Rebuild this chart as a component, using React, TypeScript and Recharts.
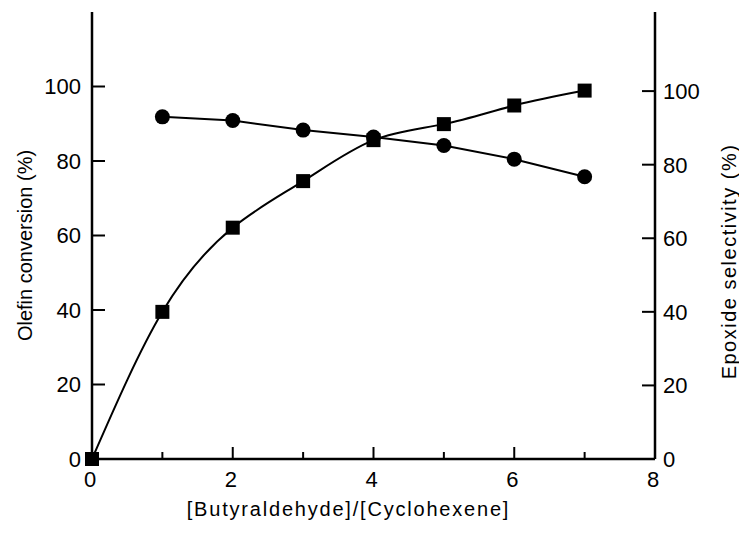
import { Line, LineChart, XAxis, YAxis } from "recharts";

const ratio = [0, 1, 2, 3, 4, 5, 6, 7];
const conversion = [0, 39.5, 62.1, 74.6, 85.6, 89.9, 94.9, 98.9];
const selectivity = [null, 93.0, 92.0, 89.4, 87.5, 85.2, 81.5, 76.7];
const xTicks = [0, 1, 2, 3, 4, 5, 6, 7, 8];
const yTicks = [0, 20, 40, 60, 80, 100];

const data = ratio.map((x, i) => ({ x, conv: conversion[i], sel: selectivity[i] }));

const FONT = "'Liberation Sans', Arial, sans-serif";
const INK = "#000";

function SquareDot({ cx, cy }: any) {
  if (cx == null || cy == null) return null;
  return <rect x={cx - 7} y={cy - 7} width={14} height={14} fill={INK} />;
}

function CircleDot({ cx, cy }: any) {
  if (cx == null || cy == null) return null;
  return <circle cx={cx} cy={cy} r={7.5} fill={INK} />;
}

function BottomTick({ x, y, payload }: any) {
  const major = payload.value % 2 === 0;
  return (
    <g>
      <line x1={x} x2={x} y1={y} y2={y - (major ? 12 : 7)} stroke={INK} strokeWidth={2} />
      {major && (
        <text x={x - 2} y={y + 28} textAnchor="middle" fontSize={22} fontFamily={FONT} fill={INK}>
          {payload.value}
        </text>
      )}
    </g>
  );
}

function TopTick({ x, y, payload }: any) {
  const major = payload.value % 2 === 0;
  return <line x1={x} x2={x} y1={y} y2={y + (major ? 12 : 7)} stroke={INK} strokeWidth={2} />;
}

function LeftTick({ x, y, payload }: any) {
  return (
    <g>
      <line x1={x} x2={x + 13} y1={y} y2={y} stroke={INK} strokeWidth={2} />
      <text x={x - 11} y={y} dy="0.36em" textAnchor="end" fontSize={22} fontFamily={FONT} fill={INK}>
        {payload.value}
      </text>
    </g>
  );
}

function RightTick({ x, y, payload }: any) {
  return (
    <g>
      <line x1={x} x2={x - 13} y1={y} y2={y} stroke={INK} strokeWidth={2} />
      <text x={x + 8} y={y} dy="0.36em" textAnchor="start" fontSize={22} fontFamily={FONT} fill={INK}>
        {payload.value}
      </text>
    </g>
  );
}

function Title({ cx, cy, angle, spacing, text }: any) {
  return (
    <text
      x={cx}
      y={cy}
      transform={angle ? `rotate(${angle}, ${cx}, ${cy})` : undefined}
      textAnchor="middle"
      dominantBaseline="central"
      fontSize={20}
      fontFamily={FONT}
      letterSpacing={spacing}
      fill={INK}
    >
      {text}
    </text>
  );
}

export default function App() {
  return (
    <div style={{ position: "absolute", left: 0, top: 0, width: 739, height: 534, background: "#fff" }}>
      <LineChart width={739} height={534} data={data} margin={{ top: 12, right: 24, bottom: 25, left: 32 }}>
        <XAxis
          xAxisId="bottom"
          type="number"
          dataKey="x"
          domain={[0, 8]}
          ticks={xTicks}
          interval={0}
          height={50}
          tickSize={0}
          tickMargin={0}
          tickLine={false}
          tick={<BottomTick />}
          axisLine={{ stroke: INK, strokeWidth: 2.5 }}
          label={(p: any) => (
            <Title
              cx={p.viewBox.x + 256.5}
              cy={p.viewBox.y + 50}
              spacing={1.8}
              text="[Butyraldehyde]/[Cyclohexene]"
            />
          )}
        />
        <XAxis
          xAxisId="top"
          orientation="top"
          type="number"
          dataKey="x"
          domain={[0, 8]}
          ticks={xTicks}
          interval={0}
          height={0}
          tickSize={0}
          tickMargin={0}
          tickLine={false}
          tick={<TopTick />}
          axisLine={{ stroke: INK, strokeWidth: 2.5 }}
        />
        <YAxis
          yAxisId="left"
          domain={[0, 120]}
          ticks={yTicks}
          interval={0}
          width={60}
          tickSize={0}
          tickMargin={0}
          tickLine={false}
          tick={<LeftTick />}
          axisLine={{ stroke: INK, strokeWidth: 2.5 }}
          label={(p: any) => (
            <Title
              cx={p.viewBox.x - 7.5}
              cy={p.viewBox.y + 233.5}
              angle={-90}
              spacing={0}
              text="Olefin conversion (%)"
            />
          )}
        />
        <YAxis
          yAxisId="right"
          orientation="right"
          domain={[0, 121.5]}
          ticks={yTicks}
          interval={0}
          width={60}
          tickSize={0}
          tickMargin={0}
          tickLine={false}
          tick={<RightTick />}
          axisLine={{ stroke: INK, strokeWidth: 2.5 }}
          label={(p: any) => (
            <Title
              cx={p.viewBox.x + 74}
              cy={p.viewBox.y + 249.5}
              angle={-90}
              spacing={1.5}
              text="Epoxide  selectivity  (%)"
            />
          )}
        />
        <Line
          xAxisId="bottom"
          yAxisId="right"
          dataKey="sel"
          type="linear"
          stroke={INK}
          strokeWidth={2}
          dot={<CircleDot />}
          activeDot={false}
          isAnimationActive={false}
        />
        <Line
          xAxisId="bottom"
          yAxisId="left"
          dataKey="conv"
          type="natural"
          stroke={INK}
          strokeWidth={2}
          dot={<SquareDot />}
          activeDot={false}
          isAnimationActive={false}
        />
      </LineChart>
    </div>
  );
}
